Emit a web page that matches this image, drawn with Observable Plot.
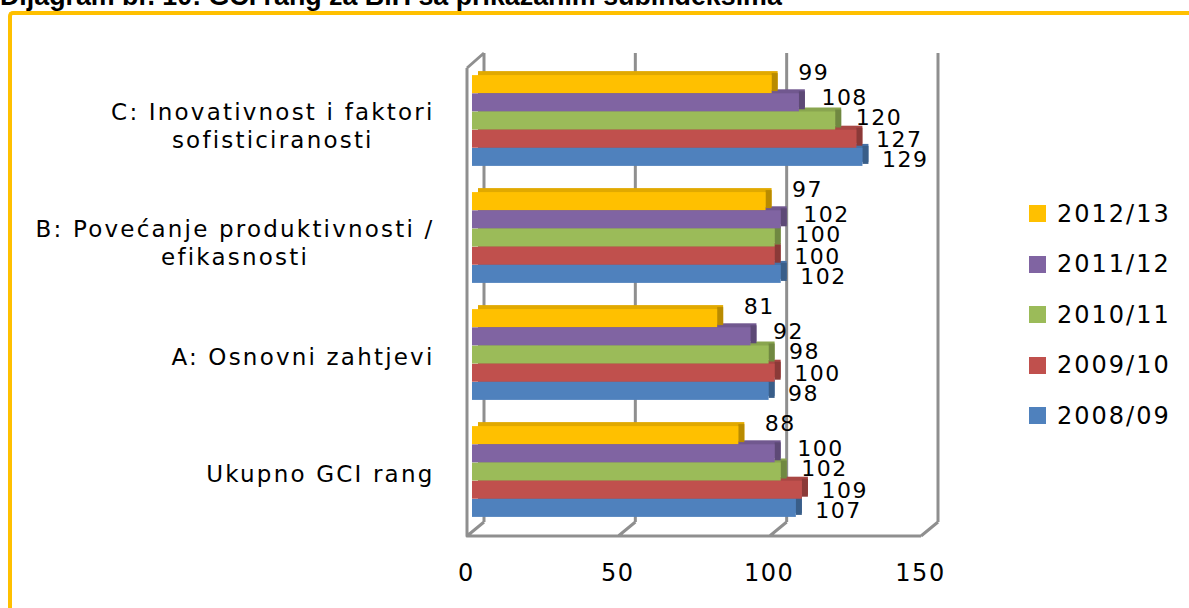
<!DOCTYPE html>
<html>
<head>
<meta charset="utf-8">
<script src="https://cdn.jsdelivr.net/npm/d3@7"></script>
<script src="https://cdn.jsdelivr.net/npm/@observablehq/plot@0.6"></script>
<style>
  html, body { margin: 0; padding: 0; background: #fff; }
  #wrap { position: relative; width: 1189px; height: 608px; overflow: hidden; background: #fff; }
  #title { position: absolute; left: 0; top: -17px; font: bold 26.8px/26px "Liberation Sans", Arial, sans-serif; color: #000; white-space: nowrap; }
  #border { position: absolute; left: 8px; top: 11px; width: 1300px; height: 800px; border-left: 4px solid #FFC000; border-top: 4px solid #FFC000; border-top-left-radius: 5px; box-sizing: border-box; pointer-events: none; z-index: 3; }
  #chart { position: absolute; left: 0; top: 0; }
  #legend { position: absolute; left: 0; top: 0; font-family: "DejaVu Sans", sans-serif; }
  .lg-item { position: absolute; display: flex; align-items: center; height: 30px; }
  .lg-sw { width: 17px; height: 17px; margin-right: 11px; }
  .lg-tx { font-size: 24px; letter-spacing: 2px; color: #000; }
  [aria-label="value label"] { letter-spacing: 1.5px; }
  [aria-label="category label"] { letter-spacing: 2.2px; }
  [aria-label="x-axis tick label"] { letter-spacing: 1.5px; }
</style>
</head>
<body>
<div id="wrap">
  <div id="chart"></div>
  <div id="title">Dijagram br. 10: GCI rang za BiH sa prikazanim subindeksima</div>
  <div id="border"></div>
  <div id="legend"></div>
</div>
<script>
// ---- data ----
const categories = [
  "C: Inovativnost i faktori sofisticiranosti",
  "B: Povećanje produktivnosti / efikasnosti",
  "A: Osnovni zahtjevi",
  "Ukupno GCI rang"
];
const categoryLines = [
  ["C: Inovativnost i faktori", "sofisticiranosti"],
  ["B: Povećanje produktivnosti /", "efikasnosti"],
  ["A: Osnovni zahtjevi"],
  ["Ukupno GCI rang"]
];
const seriesNames = ["2012/13", "2011/12", "2010/11", "2009/10", "2008/09"];
const values2012 = [99, 97, 81, 88];
const values2011 = [108, 102, 92, 100];
const values2010 = [120, 100, 98, 102];
const values2009 = [127, 100, 100, 109];
const values2008 = [129, 102, 98, 107];
const xTicks = [0, 50, 100, 150];

// ---- styles ----
const seriesValues = [values2012, values2011, values2010, values2009, values2008];
const colors = ["#FFC000", "#8064A2", "#9BBB59", "#C0504D", "#4F81BD"];
const topColors = colors.map(c => d3.color(c).darker(0.35).formatHex());
const sideColors = colors.map(c => d3.color(c).darker(0.9).formatHex());
const labDx = [26, 22, 20, 19, 19];
const labDy = [-12, -5, -3, 1, 3];
const barH = 18.2;
const inset = 49.5;

const data = [];
seriesValues.forEach((vals, s) => vals.forEach((v, j) => data.push({category: categories[j], series: seriesNames[s], s, value: v})));

const frame3d = (index, scales, values, dims) => {
  const x = scales.x;
  const fb = dims.height - dims.marginBottom - 4, bb = fb - 14;
  const bt = dims.marginTop + 1, ft = bt + 15;
  const fx = v => x(v) - 5, bx = v => x(v) + 12;
  let d = "";
  for (const t of xTicks) d += `M${bx(t)},${bt}V${bb}M${fx(t)},${fb}L${bx(t)},${bb}`;
  d += `M${fx(0)},${ft}V${fb}H${fx(150)}M${fx(0)},${ft}L${bx(0)},${bt}`;
  const g = d3.create("svg:g");
  g.append("path").attr("d", d).attr("fill", "none").attr("stroke", "#8f8f8f").attr("stroke-width", 3).attr("stroke-linejoin", "round");
  return g.node();
};

const marks = [frame3d];
for (let i = seriesNames.length - 1; i >= 0; i--) {
  const rows = data.filter(d => d.s === i);
  const off = (i - 2) * barH;
  marks.push(Plot.barX(rows, {x: "value", y: "category", fill: topColors[i], insetTop: inset, insetBottom: inset, dx: 6, dy: off - 4}));
  marks.push(Plot.barX(rows, {x1: "value", x2: "value", y: "category", fill: sideColors[i], insetTop: inset, insetBottom: inset, insetRight: -6, dy: off - 2}));
  marks.push(Plot.barX(rows, {x: "value", y: "category", fill: colors[i], insetTop: inset, insetBottom: inset, dy: off}));
}
for (let i = 0; i < seriesNames.length; i++) {
  const rows = data.filter(d => d.s === i);
  const off = (i - 2) * barH;
  marks.push(Plot.text(rows, {x: "value", y: "category", text: d => String(d.value), dx: labDx[i], dy: off + labDy[i], textAnchor: "start", fontSize: 22, fill: "#000", ariaLabel: () => "value label"}));
}

// category labels
const catFont = 23, catLS = 2.2;
const ctx = document.createElement("canvas").getContext("2d");
ctx.font = `${catFont}px "DejaVu Sans"`;
const tw = s => ctx.measureText(s).width + catLS * s.length;
categories.forEach((c, j) => {
  const lines = categoryLines[j];
  if (lines.length === 1) {
    marks.push(Plot.text([c], {y: d => d, frameAnchor: "left", text: () => lines[0], textAnchor: "end", dx: -38, dy: 3, fontSize: catFont, fill: "#000", ariaLabel: () => "category label"}));
  } else {
    const w = Math.max(...lines.map(tw));
    marks.push(Plot.text([c], {y: d => d, frameAnchor: "left", text: () => lines.join("\n"), textAnchor: "middle", lineHeight: 1.2, dx: -38 - w / 2, dy: 4, fontSize: catFont, fill: "#000", ariaLabel: () => "category label"}));
  }
});

marks.push(Plot.axisX({ticks: xTicks, tickSize: 0, tickPadding: 23, fontSize: 24, dx: -6, label: null, tickFormat: d => String(d)}));

const chart = Plot.plot({
  width: 1189,
  height: 608,
  marginLeft: 472,
  marginRight: 263,
  marginTop: 52,
  marginBottom: 68,
  style: {fontFamily: "DejaVu Sans", background: "transparent", color: "#000", overflow: "visible"},
  x: {domain: [0, 150]},
  y: {type: "band", domain: categories, paddingInner: 0, paddingOuter: 0.08, axis: null},
  marks
});
document.getElementById("chart").appendChild(chart);

// legend
const legend = document.getElementById("legend");
seriesNames.forEach((name, i) => {
  const item = document.createElement("div");
  item.className = "lg-item";
  item.style.left = "1029px";
  item.style.top = (213.5 + i * 50.5 - 15) + "px";
  const sw = document.createElement("div");
  sw.className = "lg-sw";
  sw.style.background = colors[i];
  const tx = document.createElement("div");
  tx.className = "lg-tx";
  tx.textContent = name;
  item.appendChild(sw);
  item.appendChild(tx);
  legend.appendChild(item);
});
</script>
</body>
</html>
